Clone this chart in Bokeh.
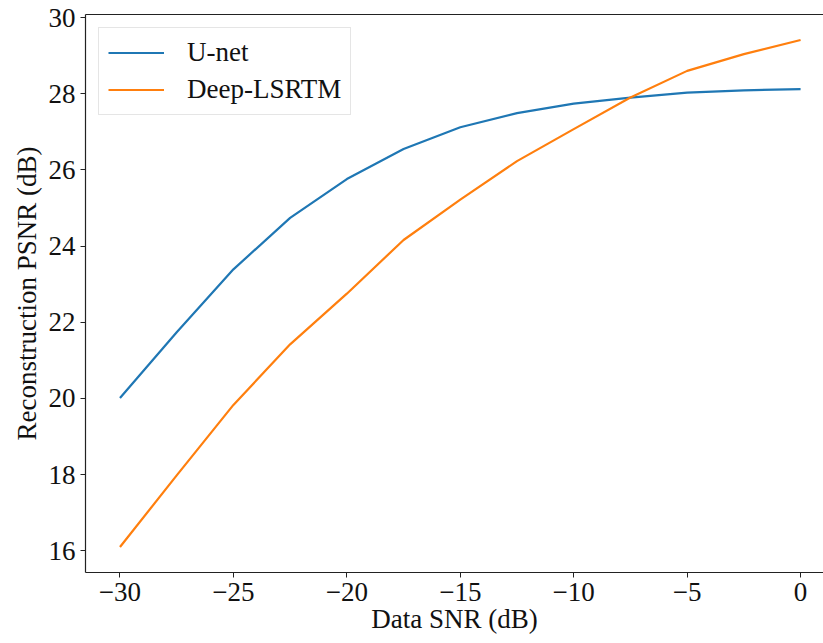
from bokeh.plotting import figure
from bokeh.models import (FixedTicker, CustomJSTickFormatter, LinearAxis, Range1d,
                          Legend, LegendItem)
from bokeh.embed import file_html
from bokeh.resources import INLINE

# Data SNR levels (dB) and reconstruction quality (PSNR, dB)
snr_db = [-30, -27.5, -25, -22.5, -20, -17.5, -15, -12.5, -10, -7.5, -5, -2.5, 0]
unet_psnr = [20.01, 21.74, 23.39, 24.74, 25.76, 26.55, 27.12, 27.49, 27.74, 27.90, 28.03, 28.09, 28.12]
deep_lsrtm_psnr = [16.10, 17.98, 19.83, 21.42, 22.75, 24.16, 25.22, 26.23, 27.07, 27.90, 28.60, 29.04, 29.41]

x_ticks = [-30, -25, -20, -15, -10, -5, 0]
y_ticks = [16, 18, 20, 22, 24, 26, 28, 30]

FONT = "Liberation Serif"
FS = "27px"

p = figure(width=823, height=643, output_backend="svg", toolbar_location=None,
           x_range=Range1d(-31.52, 1.01), y_range=Range1d(15.43, 30.08),
           min_border_left=85, min_border_right=0, min_border_top=14,
           min_border_bottom=71, x_axis_label="Data SNR (dB)",
           y_axis_label="Reconstruction PSNR (dB)")
p.outline_line_color = None
p.xgrid.visible = False
p.ygrid.visible = False
p.background_fill_color = "white"
p.border_fill_color = "white"

minus_fmt = CustomJSTickFormatter(
    code="return tick < 0 ? '\u2212' + Math.abs(tick) : tick.toString();")

for ax, ticks in ((p.xaxis[0], x_ticks), (p.yaxis[0], y_ticks)):
    ax.ticker = FixedTicker(ticks=ticks)
    ax.formatter = minus_fmt
    ax.minor_tick_line_color = None
    ax.major_tick_in = 0
    ax.major_tick_out = 5
    ax.major_tick_line_color = "#222222"
    ax.axis_line_color = "#222222"
    ax.axis_line_width = 1.2
    ax.major_label_text_font = FONT
    ax.major_label_text_font_size = FS
    ax.major_label_text_color = "#111111"
    ax.axis_label_text_font = FONT
    ax.axis_label_text_font_size = FS
    ax.axis_label_text_font_style = "normal"
    ax.axis_label_text_color = "#111111"
    ax.major_label_standoff = 5

p.xaxis[0].axis_label_standoff = 0
p.yaxis[0].axis_label_standoff = 4

# top spine
top = LinearAxis(ticker=FixedTicker(ticks=[]), major_label_text_font_size="0px",
                 axis_line_color="#222222", axis_line_width=1.2,
                 major_tick_line_color=None, minor_tick_line_color=None)
p.add_layout(top, "above")

r1 = p.line(snr_db, unet_psnr, line_color="#1f77b4", line_width=2.2)
r2 = p.line(snr_db, deep_lsrtm_psnr, line_color="#ff7f0e", line_width=2.2)

legend = Legend(items=[LegendItem(label="U-net", renderers=[r1]),
                       LegendItem(label="Deep-LSRTM", renderers=[r2])],
                location="top_left", margin=13, padding=9, spacing=6,
                glyph_width=56, glyph_height=27, label_height=27,
                label_standoff=23, label_text_font=FONT, label_text_font_size=FS,
                label_text_color="#111111",
                border_line_color="#cccccc", border_line_width=1,
                background_fill_color="white", background_fill_alpha=0.8)
p.add_layout(legend, "center")

open("out.html", "w").write(file_html(p, INLINE))
